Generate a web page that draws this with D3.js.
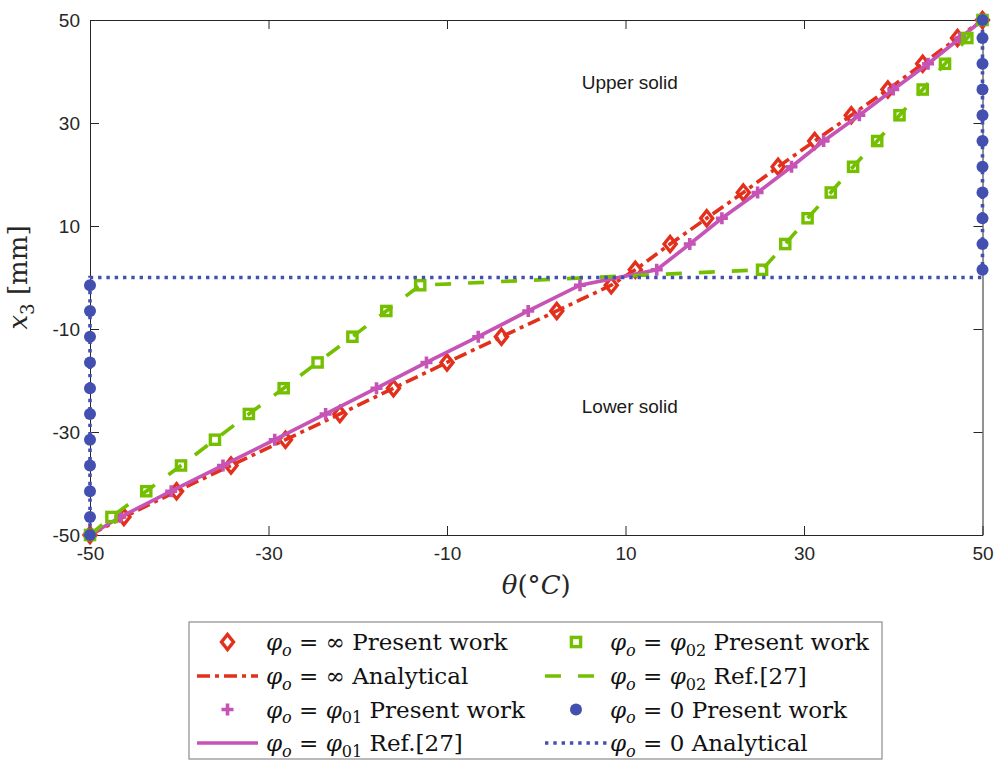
<!DOCTYPE html>
<html>
<head>
<meta charset="utf-8">
<script src="https://cdn.jsdelivr.net/npm/d3@7"></script>
<style>
  body { margin: 0; background: #fff; }
  text { white-space: pre; }
</style>
</head>
<body>
<div class="box"></div>
<script>
// positions des noeuds dans l'épaisseur (mm)
const x3Nodes = [-50, -46.5, -41.5, -36.5, -31.5, -26.5, -21.5, -16.5, -11.5, -6.5, -1.5,
                 1.5, 6.5, 11.5, 16.5, 21.5, 26.5, 31.5, 36.5, 41.5, 46.5, 50];

// températures (°C)
const thetaInf   = [-50, -46.2, -40.3, -34.2, -28.1, -22.0, -16.0, -10.0, -3.9, 2.3, 8.4,
                    11.1, 15.0, 19.1, 23.2, 27.1, 31.2, 35.3, 39.4, 43.3, 47.2, 50];
const thetaPhi01 = [-50, -46.6, -40.9, -35.1, -29.3, -23.6, -17.9, -12.3, -6.5, -0.9, 4.9,
                    13.5, 17.2, 20.8, 24.8, 28.6, 32.2, 36.2, 40.0, 43.9, 47.5, 50];
const thetaPhi02 = [-50, -47.6, -43.7, -39.8, -36.0, -32.2, -28.3, -24.5, -20.6, -16.8, -13.0,
                    25.3, 27.9, 30.4, 33.0, 35.5, 38.2, 40.7, 43.3, 45.8, 48.3, 50];
const thetaZero  = [-50, -50, -50, -50, -50, -50, -50, -50, -50, -50, -50,
                    50, 50, 50, 50, 50, 50, 50, 50, 50, 50, 50];

// solution analytique phi = 0
const thetaZeroAnalytical = [-50, -50, 50, 50];
const x3ZeroAnalytical    = [-50, 0, 0, 50];

// ticks
const xTicks = [-50, -30, -10, 10, 30, 50];
const yTicks = [-50, -30, -10, 10, 30, 50];

// annotations
const annotTexts = ['Upper solid', 'Lower solid'];
const annotTheta = [5.1, 5.1];
const annotX3    = [36.6, -26.4];

// couleurs
const rouge = '#e2301c', magenta = '#c653b6', vert = '#74c000', bleu = '#4350b0';
const axisColor = '#262626';

const dims = {width: 997, height: 762, left: 90, right: 982.5, top: 20, bottom: 535};

const svg = d3.select('.box')
              .append('svg')
              .attr('width', dims.width)
              .attr('height', dims.height);

const x = d3.scaleLinear().domain([-50, 50]).range([dims.left, dims.right]);
const y = d3.scaleLinear().domain([-50, 50]).range([dims.bottom, dims.top]);

// axes (ticks vers l'intérieur, boite complète)
const axes = svg.append('g');
const fmt = d => String(d);

axes.append('g')
    .attr('transform', `translate(0, ${dims.bottom})`)
    .call(d3.axisBottom(x).tickValues(xTicks).tickSizeInner(-9).tickSizeOuter(0).tickPadding(12).tickFormat(fmt));
axes.append('g')
    .attr('transform', `translate(0, ${dims.top})`)
    .call(d3.axisTop(x).tickValues(xTicks).tickSizeInner(-9).tickSizeOuter(0).tickFormat(''));
axes.append('g')
    .attr('transform', `translate(${dims.left}, 0)`)
    .call(d3.axisLeft(y).tickValues(yTicks).tickSizeInner(-9).tickSizeOuter(0).tickPadding(10).tickFormat(fmt));
axes.append('g')
    .attr('transform', `translate(${dims.right}, 0)`)
    .call(d3.axisRight(y).tickValues(yTicks).tickSizeInner(-9).tickSizeOuter(0).tickFormat(''));

axes.selectAll('path.domain, line').attr('stroke', axisColor).attr('stroke-width', 1);
axes.selectAll('text')
    .attr('fill', axisColor)
    .attr('font-family', '"Liberation Sans", Arial, sans-serif')
    .attr('font-size', 19);

// texte "math" avec indices
const mathFont = '"DejaVu Serif", serif';
const ecrireMath = (sel, parts, size) => {
    let shift = 0;
    parts.forEach(p => {
        const target = p.sub ? size * 0.25 : 0;
        const t = sel.append('tspan').text(p.t);
        if (p.i) t.attr('font-style', 'italic');
        if (p.sub) t.attr('font-size', size * 0.7);
        if (target !== shift) t.attr('dy', target - shift);
        shift = target;
    });
};

// labels des axes
const yLabel = svg.append('text')
                  .attr('transform', `translate(27, ${(dims.top + dims.bottom) / 2}) rotate(-90)`)
                  .attr('text-anchor', 'middle')
                  .attr('font-family', mathFont)
                  .attr('font-size', 26)
                  .attr('fill', axisColor);
ecrireMath(yLabel, [{t: 'x', i: true}, {t: '3', sub: true}, {t: ' [mm]'}], 26);

const xLabel = svg.append('text')
                  .attr('x', (dims.left + dims.right) / 2)
                  .attr('y', 594)
                  .attr('text-anchor', 'middle')
                  .attr('font-family', mathFont)
                  .attr('font-size', 26)
                  .attr('fill', axisColor);
ecrireMath(xLabel, [{t: 'θ', i: true}, {t: '(°'}, {t: 'C', i: true}, {t: ')'}], 26);

// annotations
svg.append('g').selectAll('text')
   .data(annotTexts)
   .enter()
   .append('text')
   .attr('x', (d, i) => x(annotTheta[i]))
   .attr('y', (d, i) => y(annotX3[i]))
   .attr('font-family', '"Liberation Sans", Arial, sans-serif')
   .attr('font-size', 19)
   .attr('fill', '#1a1a1a')
   .text(d => d);

// marqueurs
const marqueurs = {
    diamond: g => g.append('path').attr('d', 'M0,-7.5L6,0L0,7.5L-6,0Z')
                   .attr('fill', 'none').attr('stroke-width', 3.4).attr('stroke-linejoin', 'miter'),
    plus:    g => g.append('path').attr('d', 'M-6,0H6M0,-6V6')
                   .attr('fill', 'none').attr('stroke-width', 3.6),
    square:  g => g.append('rect').attr('x', -4.6).attr('y', -4.6).attr('width', 9.2).attr('height', 9.2)
                   .attr('fill', 'none').attr('stroke-width', 3.4),
    circle:  g => g.append('circle').attr('r', 6).attr('stroke', 'none')
};

// séries (même ordre que la légende)
const series = [
    {theta: thetaInf, x3: x3Nodes, color: rouge, marker: 'diamond'},
    {theta: thetaInf, x3: x3Nodes, color: rouge, dash: '13,5,4,5'},
    {theta: thetaPhi01, x3: x3Nodes, color: magenta, marker: 'plus'},
    {theta: thetaPhi01, x3: x3Nodes, color: magenta, dash: null},
    {theta: thetaPhi02, x3: x3Nodes, color: vert, marker: 'square'},
    {theta: thetaPhi02, x3: x3Nodes, color: vert, dash: '16,17'},
    {theta: thetaZero, x3: x3Nodes, color: bleu, marker: 'circle'},
    {theta: thetaZeroAnalytical, x3: x3ZeroAnalytical, color: bleu, dash: '3.4,4.9'}
];

const line = d3.line().x(d => x(d[0])).y(d => y(d[1]));
const graph = svg.append('g');

series.forEach(s => {
    const pts = s.theta.map((t, i) => [t, s.x3[i]]);
    if (s.marker) {
        graph.append('g').selectAll('g')
             .data(pts)
             .enter()
             .append('g')
             .attr('transform', d => `translate(${x(d[0])}, ${y(d[1])})`)
             .each(function() {
                 const m = marqueurs[s.marker](d3.select(this));
                 if (s.marker === 'circle') m.attr('fill', s.color);
                 else m.attr('stroke', s.color);
             });
    } else {
        graph.append('path')
             .datum(pts)
             .attr('d', line)
             .attr('fill', 'none')
             .attr('stroke', s.color)
             .attr('stroke-width', 3.6)
             .attr('stroke-dasharray', s.dash);
    }
});

// légende
const legendRhs = [
    [{t: '∞'}], [{t: '∞'}],
    [{t: 'φ', i: true}, {t: '01', sub: true}], [{t: 'φ', i: true}, {t: '01', sub: true}],
    [{t: 'φ', i: true}, {t: '02', sub: true}], [{t: 'φ', i: true}, {t: '02', sub: true}],
    [{t: '0'}], [{t: '0'}]
];
const legendTails = [' Present work', ' Analytical', ' Present work', ' Ref.[27]',
                     ' Present work', ' Ref.[27]', ' Present work', ' Analytical'];

const legend = svg.append('g');
legend.append('rect')
      .attr('x', 189).attr('y', 622)
      .attr('width', 693).attr('height', 137)
      .attr('fill', '#fff')
      .attr('stroke', '#8c8c8c')
      .attr('stroke-width', 1.2);

const rowY = [642, 676, 709.5, 743];
const colSample = [[197, 258], [545, 607]];
const colText = [266, 610];

series.forEach((s, i) => {
    const col = Math.floor(i / 4), row = i % 4;
    const item = legend.append('g').attr('transform', `translate(0, ${rowY[row]})`);
    const [x0, x1] = colSample[col];
    if (s.marker) {
        const g = item.append('g').attr('transform', `translate(${(x0 + x1) / 2}, 0)`);
        const m = marqueurs[s.marker](g);
        if (s.marker === 'circle') m.attr('fill', s.color);
        else m.attr('stroke', s.color);
    } else {
        item.append('line')
            .attr('x1', x0).attr('x2', x1)
            .attr('stroke', s.color)
            .attr('stroke-width', 3.6)
            .attr('stroke-dasharray', s.dash);
    }
    const t = item.append('text')
                  .attr('x', colText[col])
                  .attr('y', 8)
                  .attr('font-family', mathFont)
                  .attr('font-size', 23)
                  .attr('fill', '#111');
    ecrireMath(t, [{t: 'φ', i: true}, {t: 'o', i: true, sub: true}, {t: ' = '}]
                  .concat(legendRhs[i]).concat([{t: legendTails[i]}]), 23);
});
</script>
</body>
</html>
